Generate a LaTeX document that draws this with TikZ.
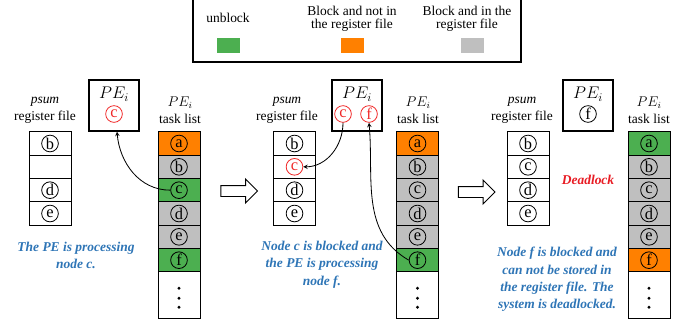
\documentclass[tikz,border=0pt]{standalone}
\usepackage{fontspec}
\setmainfont{Liberation Serif}
\usepackage{tikz}
\usetikzlibrary{positioning, arrows, shapes}
\definecolor{unblock}{RGB}{76,175,80}
\definecolor{blockout}{RGB}{255,128,0}
\definecolor{blockin}{RGB}{191,191,191}
\definecolor{noteblue}{RGB}{46,117,182}
\definecolor{alarm}{RGB}{232,28,36}
\definecolor{circred}{RGB}{240,40,40}
\tikzstyle{arrow} = [line width=0.7pt,->,>=stealth]
\tikzstyle{cell} = [rectangle, draw=black, line width=0.8pt, minimum width=1.26cm, minimum height=0.7cm, inner sep=0pt]
\tikzstyle{letter} = [circle, draw=black, line width=0.7pt, minimum size=0.5cm, inner sep=0pt, font=\fontsize{14}{14}\selectfont]
\tikzstyle{hot} = [draw=circred, text=circred]
\tikzstyle{pebox} = [rectangle, draw=black, line width=1.2pt, minimum width=1.5cm, minimum height=1.53cm]
\tikzstyle{pename} = [font=\fontsize{14}{16}\selectfont]
\tikzstyle{heading} = [align=center, font=\fontsize{11.5}{14.5}\selectfont]
\tikzstyle{keytext} = [align=center, font=\fontsize{11.5}{11.3}\selectfont]
\tikzstyle{remark} = [align=center, text=noteblue, font=\fontsize{11.5}{14.8}\selectfont\bfseries\itshape]
\tikzstyle{swatch} = [rectangle, minimum width=0.69cm, minimum height=0.45cm]
\tikzstyle{hollow} = [single arrow, draw=black, line width=0.8pt, inner xsep=0pt, inner ysep=0.15cm, single arrow head extend=0.195cm, minimum height=1.1cm]

\begin{document}
\begin{tikzpicture}[x=0.03cm, y=0.03cm, node distance=0.7cm]
        \useasboundingbox (0,0) rectangle (683,329);

        % legend
        \node (legend) [rectangle, draw=black, line width=0.9pt, minimum width=9.84cm, minimum height=1.92cm] at (357,299) {};
        \node (keygreen) [swatch, fill=unblock] at (228,283) {};
        \node (keyorange) [swatch, fill=blockout] at (352,283) {};
        \node (keygray) [swatch, fill=blockin] at (472,283) {};
        \node (txtgreen) [keytext] at (228,311) {unblock};
        \node (txtorange) [keytext] at (352,310.5) {Block and not in\\the register file};
        \node (txtgray) [keytext] at (467,310.5) {Block and in the\\register file};

        % step 1: PE runs c
        \node (psumhead1) [heading] at (45,218.5) {\textit{psum}\\register file};
        \node (reg1b) [cell] at (50,185.5) {};
        \node (reg1c) [cell, below of=reg1b] {};
        \node (reg1d) [cell, below of=reg1c] {};
        \node (reg1e) [cell, below of=reg1d] {};
        \node (psum1b) [letter] at (reg1b) {b};
        \node (psum1d) [letter] at (reg1d) {d};
        \node (psum1e) [letter] at (reg1e) {e};

        \node (pe1) [pebox] at (114,223.5) {};
        \node (pename1) [pename] at (114,235) {$PE_i$};
        \node (run1c) [letter, hot] at (114,215) {c};

        \node (listhead1) [heading] at (180,219) {$PE_i$\\task list};
        \node (list1a) [cell, fill=blockout] at (179,185.5) {};
        \node (list1b) [cell, fill=blockin, below of=list1a] {};
        \node (list1c) [cell, fill=unblock, below of=list1b] {};
        \node (list1d) [cell, fill=blockin, below of=list1c] {};
        \node (list1e) [cell, fill=blockin, below of=list1d] {};
        \node (list1f) [cell, fill=unblock, below of=list1e] {};
        \node (list1g) [cell, minimum height=1.4cm, below of=list1f, yshift=-0.35cm] {};
        \foreach \n in {a,b,c,d,e,f}
            \node (task1\n) [letter] at (list1\n) {\n};
        \foreach \dy in {7,-3,-12}
            \fill ([yshift=\dy*0.03cm]list1g.center) circle (1.4pt);

        \draw [arrow] (task1c.west) to[out=180,in=-85] ([xshift=0.09cm]pe1.south);
        \node (note1) [remark] at (76,73.5) {The PE is processing\\node c.};

        \node (next1) [hollow] at (236.5,138) {};

        % step 2: c blocked, PE runs f
        \node (psumhead2) [heading] at (287,218.5) {\textit{psum}\\register file};
        \node (reg2b) [cell] at (294.5,185.5) {};
        \node (reg2c) [cell, below of=reg2b] {};
        \node (reg2d) [cell, below of=reg2c] {};
        \node (reg2e) [cell, below of=reg2d] {};
        \node (psum2b) [letter] at (reg2b) {b};
        \node (psum2c) [letter, hot] at (reg2c) {c};
        \node (psum2d) [letter] at (reg2d) {d};
        \node (psum2e) [letter] at (reg2e) {e};

        \node (pe2) [pebox] at (357,223.5) {};
        \node (pename2) [pename] at (357,235) {$PE_i$};
        \node (run2c) [letter, hot] at (343,215) {c};
        \node (run2f) [letter, hot] at (369,215) {f};

        \node (listhead2) [heading] at (418,219) {$PE_i$\\task list};
        \node (list2a) [cell, fill=blockout] at (417.5,185.5) {};
        \node (list2b) [cell, fill=blockin, below of=list2a] {};
        \node (list2c) [cell, fill=blockin, below of=list2b] {};
        \node (list2d) [cell, fill=blockin, below of=list2c] {};
        \node (list2e) [cell, fill=blockin, below of=list2d] {};
        \node (list2f) [cell, fill=unblock, below of=list2e] {};
        \node (list2g) [cell, minimum height=1.4cm, below of=list2f, yshift=-0.35cm] {};
        \foreach \n in {a,b,c,d,e,f}
            \node (task2\n) [letter] at (list2\n) {\n};
        \foreach \dy in {7,-3,-12}
            \fill ([yshift=\dy*0.03cm]list2g.center) circle (1.4pt);

        \draw [arrow] (run2c.south) to[out=-90,in=0] (psum2c.east);
        \draw [arrow] (task2f.west) to[out=150,in=-85] (run2f.south);
        \node (note2) [remark] at (322,64.5) {Node c is blocked and\\the PE is processing\\node f.};

        \node (next2) [hollow] at (474,137) {};

        % step 3: deadlock
        \node (psumhead3) [heading] at (522,218.5) {\textit{psum}\\register file};
        \node (reg3b) [cell] at (528,185.5) {};
        \node (reg3c) [cell, below of=reg3b] {};
        \node (reg3d) [cell, below of=reg3c] {};
        \node (reg3e) [cell, below of=reg3d] {};
        \foreach \n in {b,c,d,e}
            \node (psum3\n) [letter] at (reg3\n) {\n};

        \node (pe3) [pebox] at (588,223.5) {};
        \node (pename3) [pename] at (588,235) {$PE_i$};
        \node (run3f) [letter] at (588,215) {f};

        \node (listhead3) [heading] at (649,219) {$PE_i$\\task list};
        \node (list3a) [cell, fill=unblock] at (649,185.5) {};
        \node (list3b) [cell, fill=blockin, below of=list3a] {};
        \node (list3c) [cell, fill=blockin, below of=list3b] {};
        \node (list3d) [cell, fill=blockin, below of=list3c] {};
        \node (list3e) [cell, fill=blockin, below of=list3d] {};
        \node (list3f) [cell, fill=blockout, below of=list3e] {};
        \node (list3g) [cell, minimum height=1.4cm, below of=list3f, yshift=-0.35cm] {};
        \foreach \n in {a,b,c,d,e,f}
            \node (task3\n) [letter] at (list3\n) {\n};
        \foreach \dy in {7,-3,-12}
            \fill ([yshift=\dy*0.03cm]list3g.center) circle (1.4pt);

        \node (deadlock) [text=alarm, font=\fontsize{11.5}{14}\selectfont\bfseries\itshape] at (588,149) {Deadlock};
        \node (note3) [remark] at (557,49.5) {Node f is blocked and\\can not be stored in\\the register file. The\\system is deadlocked.};

\end{tikzpicture}
\end{document}
